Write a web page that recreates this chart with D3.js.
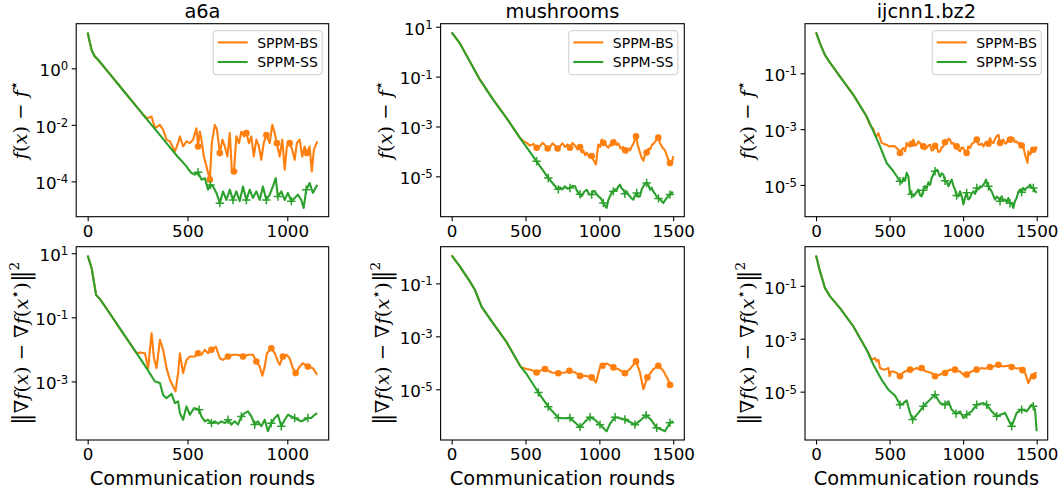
<!DOCTYPE html>
<html><head><meta charset="utf-8">
<script src="https://cdn.jsdelivr.net/npm/d3@7"></script>
<style>
body{margin:0;background:#fff}
svg{display:block}
text{font-family:"DejaVu Sans",sans-serif;fill:#000}
.math{font-family:"DejaVu Serif",serif}
</style>
</head><body>
<svg id="c" width="1060" height="491"></svg>
<script>
// ---------------- DATA ----------------
const titles = ["a6a", "mushrooms", "ijcnn1.bz2"];
const legendLabels = ["SPPM-BS", "SPPM-SS"];
const xLabel = "Communication rounds";

const xTicksA6a = [0, 500, 1000];
const xTicksOther = [0, 500, 1000, 1500];
const yTicksA6aF = [1e0, 1e-2, 1e-4];
const yTicksMushF = [1e1, 1e-1, 1e-3, 1e-5];
const yTicksIjcnnF = [1e-1, 1e-3, 1e-5];
const yTicksA6aG = [1e1, 1e-1, 1e-3];
const yTicksMushG = [1e-1, 1e-3, 1e-5];
const yTicksIjcnnG = [1e-1, 1e-3, 1e-5];

// a6a : f(x) - f*
const a6aFuncBS = [[0,18.6],[10,8.7],[20,4.4],[35,2.7],[50,2.1],[100,0.78],[150,0.29],[200,0.107],[250,0.04],[278,0.0225],[300,0.017],[320,0.0197],[337,7.6e-3],[362,1.0e-2],[378,6.7e-3],[395,3.0e-3],[412,2.6e-3],[437,1.15e-3],[453,2.25e-3],[462,3.9e-3],[478,1.72e-3],[495,2.6e-3],[512,2.25e-3],[528,3.0e-3],[545,7.6e-3],[553,1.72e-3],[562,5.8e-3],[570,3.0e-3],[582,7.6e-4],[595,3.4e-4],[612,1.15e-4],[622,2.25e-3],[637,1.0e-2],[648,6.7e-3],[662,1.0e-3],[675,3.0e-3],[687,1.72e-3],[700,7.6e-4],[712,5.1e-3],[723,1.97e-4],[733,2.25e-4],[745,3.9e-3],[758,2.25e-3],[770,5.8e-3],[783,3.9e-3],[795,5.1e-3],[808,2.25e-3],[820,3.9e-3],[832,7.6e-4],[845,3.0e-3],[858,1.72e-3],[870,5.8e-4],[882,2.25e-3],[895,4.4e-3],[912,2.25e-3],[925,1.0e-2],[937,5.1e-3],[948,2.25e-3],[962,7.6e-4],[975,3.0e-3],[987,2.6e-4],[998,1.72e-3],[1012,2.25e-3],[1025,1.31e-3],[1037,5.8e-4],[1048,2.25e-3],[1062,3.0e-3],[1075,7.6e-4],[1087,1.72e-3],[1098,1.0e-3],[1112,1.72e-3],[1123,2.25e-4],[1133,1.31e-3],[1150,2.6e-3]];
const a6aFuncSS = [[0,18.6],[10,8.7],[20,4.4],[35,2.7],[50,2.1],[100,0.78],[150,0.29],[200,0.107],[250,0.04],[300,0.0148],[350,5.5e-3],[400,2.04e-3],[450,7.6e-4],[495,3.4e-4],[503,2.8e-4],[520,1.97e-4],[537,1.73e-4],[553,2.1e-4],[570,1.15e-4],[587,1.3e-4],[603,5.1e-5],[615,7.5e-5],[628,6.6e-5],[645,3.9e-5],[662,1.7e-5],[678,4.4e-5],[695,2.2e-5],[712,5.1e-5],[728,2.2e-5],[745,4.4e-5],[762,2.0e-5],[778,6.6e-5],[795,2.2e-5],[812,5.1e-5],[828,2.6e-5],[845,4.4e-5],[862,2.2e-5],[878,6.6e-5],[895,2.2e-5],[912,3.4e-5],[928,6.6e-5],[942,1.3e-4],[953,2.9e-5],[970,4.4e-5],[987,2.2e-5],[1003,3.9e-5],[1020,2.0e-5],[1037,2.6e-5],[1053,3.4e-5],[1070,2.2e-5],[1082,1.15e-5],[1095,5.1e-5],[1112,8.7e-5],[1128,3.9e-5],[1150,7.6e-5]];

// a6a : gradient
const a6aGradBS = [[0,8.5],[20,3.4],[42,0.5],[62,0.37],[100,0.166],[150,0.0574],[200,0.0199],[245,7.6e-3],[262,8.0e-3],[287,7.6e-3],[303,2.6e-3],[320,3.2e-2],[332,5.3e-3],[345,2.6e-3],[362,2.0e-2],[378,9.7e-3],[395,2.6e-3],[412,1.13e-3],[440,4.9e-4],[453,1.82e-3],[462,7.6e-3],[478,1.82e-3],[495,4.7e-3],[512,6.0e-3],[537,6.0e-3],[553,7.6e-3],[570,6.8e-3],[587,9.7e-3],[603,7.6e-3],[620,9.7e-3],[642,1.23e-2],[662,5.3e-3],[678,4.7e-3],[703,6.0e-3],[728,6.8e-3],[753,6.8e-3],[778,6.0e-3],[803,6.8e-3],[828,6.8e-3],[845,4.2e-3],[862,2.9e-3],[875,1.5e-3],[887,2.9e-3],[898,7.6e-3],[920,1.09e-2],[937,7.6e-3],[953,4.2e-3],[962,3.3e-3],[978,6.0e-3],[995,6.8e-3],[1012,5.3e-3],[1028,2.6e-3],[1042,1.82e-3],[1062,2.9e-3],[1078,3.7e-3],[1103,2.9e-3],[1128,2.6e-3],[1150,1.6e-3]];
const a6aGradSS = [[0,8.5],[20,3.4],[42,0.5],[62,0.37],[100,0.166],[150,0.0574],[200,0.0199],[245,7.6e-3],[295,2.6e-3],[337,1.0e-3],[362,8.9e-4],[378,3.8e-4],[395,3.0e-4],[420,4.1e-4],[437,2.1e-4],[453,2.4e-4],[462,1.03e-4],[478,6.4e-5],[495,1.66e-4],[512,9.1e-5],[533,1.48e-4],[558,1.31e-4],[570,8.1e-5],[587,5.7e-5],[603,6.4e-5],[620,5.0e-5],[637,5.7e-5],[653,4.8e-5],[670,5.7e-5],[687,5.0e-5],[703,6.4e-5],[720,4.5e-5],[737,5.7e-5],[753,4.5e-5],[770,8.1e-5],[787,1.03e-4],[803,1.16e-4],[820,8.1e-5],[837,4.5e-5],[853,5.7e-5],[870,4.0e-5],[887,6.4e-5],[903,2.8e-5],[920,5.0e-5],[937,7.2e-5],[953,9.1e-5],[970,4.0e-5],[987,6.4e-5],[1003,9.1e-5],[1020,8.1e-5],[1037,7.2e-5],[1053,6.4e-5],[1070,5.7e-5],[1087,6.4e-5],[1103,7.2e-5],[1120,7.2e-5],[1137,9.1e-5],[1150,1.03e-4]];

// mushrooms : f(x) - f*
const mushFuncBS = [[0,5.9],[56,2.15],[124,0.398],[192,0.0736],[282,0.0117],[372,2.15e-3],[463,3.4e-4],[485,2.6e-4],[508,2.2e-4],[530,1.7e-4],[553,2.0e-4],[575,1.4e-4],[598,1.6e-4],[615,2.2e-4],[632,1.8e-4],[650,1.3e-4],[666,1.5e-4],[683,2.1e-4],[700,1.7e-4],[717,1.3e-4],[733,1.6e-4],[750,2.1e-4],[767,1.5e-4],[784,1.9e-4],[801,1.4e-4],[818,2.2e-4],[835,1.7e-4],[852,1.2e-4],[869,1.5e-4],[880,9e-5],[891,1.1e-4],[903,7e-5],[914,9e-5],[930,6e-5],[948,6.5e-5],[960,4.5e-5],[977,3.0e-5],[985,8e-5],[993,1.9e-4],[1005,1.5e-4],[1016,3.0e-4],[1027,2.2e-4],[1038,2.0e-4],[1050,1.6e-4],[1061,1.4e-4],[1072,1.9e-4],[1083,1.7e-4],[1095,2.3e-4],[1106,2.6e-4],[1117,1.8e-4],[1128,2.1e-4],[1145,1.3e-4],[1162,1.5e-4],[1175,1.1e-4],[1185,9e-5],[1196,1.3e-4],[1207,1.1e-4],[1220,1.6e-4],[1230,2.0e-4],[1240,3.0e-4],[1248,4.0e-4],[1258,2.0e-4],[1270,1.1e-4],[1284,6e-5],[1298,4.2e-5],[1310,8e-5],[1320,9e-5],[1332,1.3e-4],[1343,1.2e-4],[1355,1.8e-4],[1365,2.0e-4],[1380,2.6e-4],[1399,3.6e-4],[1410,2.2e-4],[1422,1.6e-4],[1433,1.3e-4],[1444,1.1e-4],[1456,7e-5],[1467,4.6e-5],[1478,3.4e-5],[1490,3.0e-5],[1500,6.5e-5]];
const mushFuncSS = [[0,5.9],[56,2.15],[124,0.398],[192,0.0736],[282,0.0117],[372,2.15e-3],[463,3.4e-4],[508,1.45e-4],[575,4.0e-5],[654,8.6e-6],[711,3.4e-6],[722,3.0e-6],[733,3.6e-6],[750,3.0e-6],[767,4.0e-6],[784,3.2e-6],[801,3.4e-6],[818,4.2e-6],[835,4.0e-6],[846,2.8e-6],[858,2.15e-6],[869,1.9e-6],[880,1.58e-6],[897,2.4e-6],[914,2.9e-6],[931,1.9e-6],[948,1.85e-6],[959,2.6e-6],[970,2.5e-6],[981,1.9e-6],[993,1.58e-6],[1010,1.3e-6],[1027,8.6e-7],[1038,6.5e-7],[1049,5.4e-7],[1060,1.1e-6],[1072,1.58e-6],[1083,2.2e-6],[1095,2.5e-6],[1106,3.0e-6],[1117,2.9e-6],[1128,3.8e-6],[1140,4.6e-6],[1151,3.2e-6],[1162,2.9e-6],[1173,2.0e-6],[1185,2.5e-6],[1196,1.8e-6],[1207,1.58e-6],[1218,1.3e-6],[1230,1.17e-6],[1241,1.7e-6],[1253,2.15e-6],[1264,1.5e-6],[1275,1.58e-6],[1287,3.0e-6],[1298,4.0e-6],[1309,5.0e-6],[1320,5.4e-6],[1332,4.4e-6],[1343,2.9e-6],[1354,3.5e-6],[1365,2.5e-6],[1376,2.0e-6],[1388,1.58e-6],[1400,1.3e-6],[1411,1.17e-6],[1422,1.0e-6],[1433,8.6e-7],[1445,1.1e-6],[1456,1.36e-6],[1467,1.6e-6],[1478,1.85e-6],[1490,2.3e-6],[1500,2.15e-6]];

// mushrooms : gradient
const mushGradBS = [[0,1.13],[56,0.43],[124,0.116],[158,0.056],[203,0.0129],[282,3.0e-3],[372,6.0e-4],[463,7.7e-5],[474,6.7e-5],[508,5.8e-5],[542,5.3e-5],[575,4.3e-5],[609,5.3e-5],[632,5.8e-5],[677,4.3e-5],[722,4.0e-5],[767,4.3e-5],[797,5.0e-5],[835,4.3e-5],[869,3.2e-5],[914,3.2e-5],[948,2.8e-5],[977,1.8e-5],[1004,6.7e-5],[1022,7.7e-5],[1049,9.5e-5],[1095,6.7e-5],[1140,5.3e-5],[1173,4.0e-5],[1207,5.8e-5],[1248,1.13e-4],[1275,4.3e-5],[1298,1.0e-5],[1325,2.8e-5],[1365,5.8e-5],[1399,7.7e-5],[1433,5.0e-5],[1467,2.2e-5],[1478,1.46e-5],[1500,1.34e-5]];
const mushGradSS = [[0,1.13],[56,0.43],[124,0.116],[158,0.056],[203,0.0129],[282,3.0e-3],[372,6.0e-4],[463,7.7e-5],[508,3.7e-5],[587,7.5e-6],[654,2.2e-6],[722,8.3e-7],[760,8.0e-7],[801,8.3e-7],[835,5.5e-7],[869,3.7e-7],[903,6.0e-7],[937,8.8e-7],[970,7.0e-7],[1004,4.6e-7],[1049,2.6e-7],[1072,5.0e-7],[1106,8.8e-7],[1140,8.0e-7],[1173,7.2e-7],[1207,5.8e-7],[1241,4.6e-7],[1275,6.5e-7],[1316,1.05e-6],[1350,7.0e-7],[1388,3.5e-7],[1420,3.0e-7],[1444,2.6e-7],[1478,5.4e-7],[1500,6.2e-7]];

// ijcnn1 : f(x) - f*
const ijcnnFuncBS = [[0,2.9],[27,1.18],[61,0.45],[95,0.24],[163,0.076],[254,0.0168],[344,2.83e-3],[367,1.4e-3],[390,1.0e-3],[401,6.3e-4],[412,5.5e-4],[424,7.2e-4],[446,3.2e-4],[463,2.9e-4],[480,2.75e-4],[497,2.4e-4],[514,2.5e-4],[537,2.4e-4],[548,2.1e-4],[560,1.83e-4],[571,1.39e-4],[583,1.9e-4],[594,2.1e-4],[605,1.6e-4],[616,3.2e-4],[628,2.5e-4],[639,2.4e-4],[650,3.0e-4],[662,4.2e-4],[673,2.6e-4],[684,2.75e-4],[696,3.6e-4],[707,3.2e-4],[718,2.3e-4],[730,2.4e-4],[741,1.9e-4],[752,2.1e-4],[764,2.6e-4],[775,2.75e-4],[786,1.7e-4],[798,1.83e-4],[809,2.5e-4],[820,2.4e-4],[832,1.5e-4],[843,1.6e-4],[855,2.2e-4],[866,2.4e-4],[877,3.4e-4],[888,3.2e-4],[900,4.6e-4],[911,4.2e-4],[922,3.0e-4],[934,3.2e-4],[945,2.2e-4],[956,2.4e-4],[968,1.8e-4],[979,1.6e-4],[990,2.2e-4],[1002,2.1e-4],[1013,1.5e-4],[1024,1.39e-4],[1035,2.4e-4],[1047,2.1e-4],[1058,2.9e-4],[1070,3.2e-4],[1081,3.8e-4],[1093,4.2e-4],[1104,2.8e-4],[1115,2.75e-4],[1127,3.0e-4],[1138,2.4e-4],[1149,3.2e-4],[1160,3.6e-4],[1172,3.0e-4],[1183,4.8e-4],[1194,3.4e-4],[1206,3.2e-4],[1217,4.5e-4],[1228,5.5e-4],[1240,6.3e-4],[1251,3.2e-4],[1262,3.6e-4],[1273,4.2e-4],[1285,3.0e-4],[1296,3.2e-4],[1307,4.6e-4],[1319,4.2e-4],[1330,5.0e-4],[1341,4.8e-4],[1352,3.4e-4],[1364,3.6e-4],[1375,3.0e-4],[1387,3.2e-4],[1398,2.6e-4],[1409,2.4e-4],[1421,1.2e-4],[1432,8.0e-5],[1438,6.1e-5],[1443,1.6e-4],[1455,1.21e-4],[1466,1.6e-4],[1477,1.83e-4],[1488,1.6e-4],[1500,2.4e-4]];
const ijcnnFuncSS = [[0,2.9],[27,1.18],[61,0.45],[95,0.24],[163,0.076],[254,0.0168],[344,2.83e-3],[390,8.3e-4],[435,2.4e-4],[480,6.1e-5],[526,3.1e-5],[571,1.35e-5],[583,1.2e-5],[594,1.78e-5],[605,1.4e-5],[616,2.7e-5],[628,2.0e-5],[639,5.2e-6],[650,4.6e-6],[662,3.9e-6],[678,5.0e-6],[696,6.8e-6],[707,4.3e-6],[718,3.9e-6],[730,6.5e-6],[741,9.0e-6],[752,7.5e-6],[764,1.24e-5],[775,1.0e-5],[786,1.78e-5],[798,2.4e-5],[809,3.1e-5],[825,3.5e-5],[835,2.5e-5],[843,2.0e-5],[855,2.6e-5],[866,2.3e-5],[877,1.4e-5],[888,1.35e-5],[900,9.0e-6],[911,1.2e-5],[922,1.55e-5],[934,9.5e-6],[945,6.8e-6],[956,4.2e-6],[968,3.9e-6],[979,5.9e-6],[990,4.0e-6],[1002,2.0e-6],[1013,3.5e-6],[1024,5.2e-6],[1035,3.0e-6],[1047,3.4e-6],[1058,5.0e-6],[1070,5.9e-6],[1081,4.8e-6],[1093,7.8e-6],[1104,7.0e-6],[1115,9.0e-6],[1127,8.5e-6],[1138,1.03e-5],[1147,1.2e-5],[1156,1.55e-5],[1165,1.0e-5],[1172,9.0e-6],[1183,7.0e-6],[1194,5.9e-6],[1205,4.2e-6],[1217,3.0e-6],[1228,3.8e-6],[1240,3.4e-6],[1251,2.6e-6],[1262,3.9e-6],[1273,2.8e-6],[1285,3.0e-6],[1296,2.4e-6],[1307,3.4e-6],[1318,2.2e-6],[1330,2.3e-6],[1341,1.5e-6],[1352,2.6e-6],[1364,3.4e-6],[1375,5.5e-6],[1387,6.8e-6],[1398,5.5e-6],[1409,7.8e-6],[1420,6.5e-6],[1432,7.8e-6],[1443,8.5e-6],[1455,1.03e-5],[1466,8.0e-6],[1477,7.8e-6],[1488,6.0e-6],[1500,5.2e-6]];

// ijcnn1 : gradient
const ijcnnGradBS = [[0,1.4],[27,0.35],[61,0.082],[95,0.04],[163,0.0144],[254,2.9e-3],[344,3.85e-4],[356,3.0e-4],[378,1.61e-4],[401,1.86e-4],[412,1.4e-4],[424,1.6e-4],[435,7.8e-5],[452,7.0e-5],[469,6.8e-5],[492,7.8e-5],[500,3.8e-5],[510,5.8e-5],[526,5.8e-5],[548,5.1e-5],[571,3.8e-5],[588,5.0e-5],[605,5.8e-5],[622,6.3e-5],[639,6.8e-5],[662,6.8e-5],[684,7.8e-5],[700,7.0e-5],[718,7.8e-5],[735,6.3e-5],[752,5.8e-5],[769,5.4e-5],[786,5.1e-5],[809,3.8e-5],[826,4.2e-5],[843,4.4e-5],[860,5.0e-5],[877,5.1e-5],[894,6.0e-5],[911,6.8e-5],[928,6.5e-5],[945,6.8e-5],[962,6.0e-5],[979,5.8e-5],[1002,4.4e-5],[1013,4.0e-5],[1024,4.4e-5],[1041,5.2e-5],[1058,5.8e-5],[1075,6.3e-5],[1092,6.8e-5],[1109,7.2e-5],[1126,7.8e-5],[1143,7.4e-5],[1160,7.8e-5],[1183,8.5e-5],[1206,9.0e-5],[1223,9.6e-5],[1240,1.04e-4],[1256,9.5e-5],[1273,9.0e-5],[1290,9.3e-5],[1307,9.6e-5],[1330,8.5e-5],[1353,7.8e-5],[1370,7.5e-5],[1387,7.8e-5],[1404,6.5e-5],[1421,5.1e-5],[1432,3.5e-5],[1443,2.1e-5],[1455,3.0e-5],[1466,4.2e-5],[1478,3.8e-5],[1489,5.1e-5],[1500,5.1e-5]];
const ijcnnGradSS = [[0,1.4],[27,0.35],[61,0.082],[95,0.04],[163,0.0144],[254,2.9e-3],[344,3.85e-4],[390,1.04e-4],[446,2.8e-5],[492,1.19e-5],[537,7.1e-6],[571,3.2e-6],[594,3.7e-6],[616,4.7e-6],[639,1.57e-6],[657,8.8e-7],[696,1.57e-6],[730,2.8e-6],[775,5.0e-6],[809,7.7e-6],[843,3.7e-6],[877,3.2e-6],[900,4.3e-6],[922,2.1e-6],[952,1.48e-6],[979,1.8e-6],[1002,1.0e-6],[1024,1.35e-6],[1058,1.8e-6],[1092,3.2e-6],[1138,3.7e-6],[1160,3.2e-6],[1194,1.8e-6],[1228,1.17e-6],[1285,1.57e-6],[1330,4.9e-7],[1364,1.57e-6],[1398,2.1e-6],[1432,1.8e-6],[1466,3.2e-6],[1477,2.8e-6],[1489,2.1e-6],[1500,3.2e-7]];

// marker rounds (markers drawn on the nearest recorded point)
const a6aMarkersF = [553, 612, 662, 733, 800, 895, 953, 1012, 1098];
const a6aMarkersG = [553, 620, 703, 778, 845, 912, 978, 1042, 1103];
const mushMarkers = [575, 650, 722, 801, 869, 948, 1022, 1095, 1173, 1248, 1320, 1399, 1478];
const ijcnnMarkers = [571, 650, 725, 804, 877, 952, 1024, 1097, 1172, 1246, 1323, 1398, 1473];

// ---------------- LAYOUT ----------------
const cols = [[76.2, 328.7], [440.6, 684.3], [805, 1047.7]];
const rows = [[23.7, 216.7], [246.7, 440]];
const ylabX = [[21, 386, 748], [22, 383, 748]];
const COL_BS = "#ff7f0e", COL_SS = "#2ca02c";
const FS_TICK = 16.7, FS_LAB = 19.4, FS_LEG = 14;

const panels = [
  {r:0,c:0,bs:a6aFuncBS,ss:a6aFuncSS,xt:xTicksA6a,yt:yTicksA6aF,mk:a6aMarkersF},
  {r:0,c:1,bs:mushFuncBS,ss:mushFuncSS,xt:xTicksOther,yt:yTicksMushF,mk:mushMarkers},
  {r:0,c:2,bs:ijcnnFuncBS,ss:ijcnnFuncSS,xt:xTicksOther,yt:yTicksIjcnnF,mk:ijcnnMarkers},
  {r:1,c:0,bs:a6aGradBS,ss:a6aGradSS,xt:xTicksA6a,yt:yTicksA6aG,mk:a6aMarkersG},
  {r:1,c:1,bs:mushGradBS,ss:mushGradSS,xt:xTicksOther,yt:yTicksMushG,mk:mushMarkers},
  {r:1,c:2,bs:ijcnnGradBS,ss:ijcnnGradSS,xt:xTicksOther,yt:yTicksIjcnnG,mk:ijcnnMarkers}
];

const svg = d3.select("#c");

function supExp(v){ return String(Math.round(Math.log10(v))); }

function mathText(g, cx, cy){
  return g.append("text").attr("class","math")
    .attr("transform",`translate(${cx},${cy}) rotate(-90)`)
    .attr("text-anchor","middle").attr("y", 0.3*FS_LAB).attr("font-size",FS_LAB);
}
function ylabelF(g, cx, cy){
  const t = mathText(g, cx, cy);
  t.append("tspan").attr("font-style","italic").text("f");
  t.append("tspan").text("(");
  t.append("tspan").attr("font-style","italic").text("x");
  t.append("tspan").text(") \u2212 ");
  t.append("tspan").attr("font-style","italic").text("f");
  t.append("tspan").attr("font-size",FS_LAB*0.75).attr("dy",-8).text("\u22C6");
}
function ylabelG(g, cx, cy){
  const t = mathText(g, cx, cy);
  t.append("tspan").attr("font-size",FS_LAB*1.2).attr("dy",1.5).text("\u2016");
  t.append("tspan").attr("dy",-1.5).text("\u2207");
  t.append("tspan").attr("font-style","italic").text("f");
  t.append("tspan").text("(");
  t.append("tspan").attr("font-style","italic").text("x");
  t.append("tspan").text(") \u2212 \u2207");
  t.append("tspan").attr("font-style","italic").text("f");
  t.append("tspan").text("(");
  t.append("tspan").attr("font-style","italic").text("x");
  t.append("tspan").attr("font-size",FS_LAB*0.75).attr("dy",-8).text("\u22C6");
  t.append("tspan").attr("dy",8).text(")");
  t.append("tspan").attr("font-size",FS_LAB*1.2).attr("dy",1.5).text("\u2016");
  t.append("tspan").attr("font-size",FS_LAB*0.7).attr("dy",-10.5).text("2");
}

panels.forEach(p => {
  const [x0,x1] = cols[p.c], [y0,y1] = rows[p.r];
  const xmax = d3.max(p.bs, d => d[0]);
  const x = d3.scaleLinear().domain([-0.05*xmax, 1.05*xmax]).range([x0,x1]);
  const logs = p.bs.concat(p.ss).map(d => Math.log10(d[1]));
  const lo = d3.min(logs), hi = d3.max(logs), m = (hi-lo)*0.05;
  const y = d3.scaleLog().domain([Math.pow(10,lo-m), Math.pow(10,hi+m)]).range([y1,y0]);
  const g = svg.append("g");
  const line = d3.line().x(d => x(d[0])).y(d => y(d[1]));
  const nearest = (s, mx) => d3.least(s, d => Math.abs(d[0]-mx));

  // SPPM-BS
  g.append("path").datum(p.bs).attr("d", line).attr("fill","none")
    .attr("stroke",COL_BS).attr("stroke-width",2.1).attr("stroke-linejoin","round");
  g.selectAll(null).data(p.mk.map(mx => nearest(p.bs, mx))).enter().append("circle")
    .attr("cx", d => x(d[0])).attr("cy", d => y(d[1])).attr("r", 3.3).attr("fill", COL_BS);
  // SPPM-SS
  g.append("path").datum(p.ss).attr("d", line).attr("fill","none")
    .attr("stroke",COL_SS).attr("stroke-width",2.1).attr("stroke-linejoin","round");
  g.selectAll(null).data(p.mk.map(mx => nearest(p.ss, mx))).enter().append("path")
    .attr("d", d => { const cx=x(d[0]), cy=y(d[1]), s=4.2; return `M${cx-s},${cy}H${cx+s}M${cx},${cy-s}V${cy+s}`; })
    .attr("stroke", COL_SS).attr("stroke-width",1.5).attr("fill","none");

  // axes
  const gx = g.append("g").attr("transform",`translate(0,${y1})`)
    .call(d3.axisBottom(x).tickValues(p.xt).tickSize(4.5).tickSizeOuter(0).tickFormat(d3.format("d")));
  gx.select(".domain").remove();
  gx.selectAll(".tick line").attr("stroke","#000").attr("stroke-width",1.1);
  gx.selectAll(".tick text").attr("font-size",FS_TICK).attr("font-family","DejaVu Sans")
    .attr("fill","#000").attr("y",20).attr("dy",0);

  const gy = g.append("g").attr("transform",`translate(${x0},0)`)
    .call(d3.axisLeft(y).tickValues(p.yt).tickSize(4.5).tickSizeOuter(0).tickFormat(() => ""));
  gy.select(".domain").remove();
  gy.selectAll(".tick line").attr("stroke","#000").attr("stroke-width",1.1);
  gy.selectAll(".tick text").each(function(v){
    const t = d3.select(this).attr("x",-8).attr("y",7.3).attr("dy",0)
      .attr("text-anchor","end").attr("font-size",FS_TICK).attr("font-family","DejaVu Sans").attr("fill","#000");
    t.text("10");
    t.append("tspan").attr("font-size",11.7).attr("dy",-5.7).text(supExp(v));
  });

  // frame
  g.append("rect").attr("x",x0).attr("y",y0).attr("width",x1-x0).attr("height",y1-y0)
    .attr("fill","none").attr("stroke","#000").attr("stroke-width",1.1);

  if (p.r === 0) {
    g.append("text").attr("x",(x0+x1)/2).attr("y",18.3).attr("text-anchor","middle")
      .attr("font-size",FS_LAB).text(titles[p.c]);
    ylabelF(g, ylabX[0][p.c], (y0+y1)/2);
    // legend
    const lw = 109, lh = 44, lx = x1 - 6.5 - lw, ly = y0 + 7;
    const lg = g.append("g");
    lg.append("rect").attr("x",lx).attr("y",ly).attr("width",lw).attr("height",lh).attr("rx",2.8)
      .attr("fill","#fff").attr("fill-opacity",0.8).attr("stroke","#cccccc").attr("stroke-width",1);
    [COL_BS, COL_SS].forEach((c,i) => {
      const yy = ly + 11.7 + i*19.6;
      lg.append("line").attr("x1",lx+4.5).attr("x2",lx+34.5).attr("y1",yy).attr("y2",yy)
        .attr("stroke",c).attr("stroke-width",2.1);
      lg.append("text").attr("x",lx+44).attr("y",yy+5.2).attr("font-size",FS_LEG).text(legendLabels[i]);
    });
  } else {
    g.append("text").attr("x",(x0+x1)/2).attr("y",485).attr("text-anchor","middle")
      .attr("font-size",FS_LAB).text(xLabel);
    ylabelG(g, ylabX[1][p.c], (y0+y1)/2);
  }
});
</script>
</body></html>
